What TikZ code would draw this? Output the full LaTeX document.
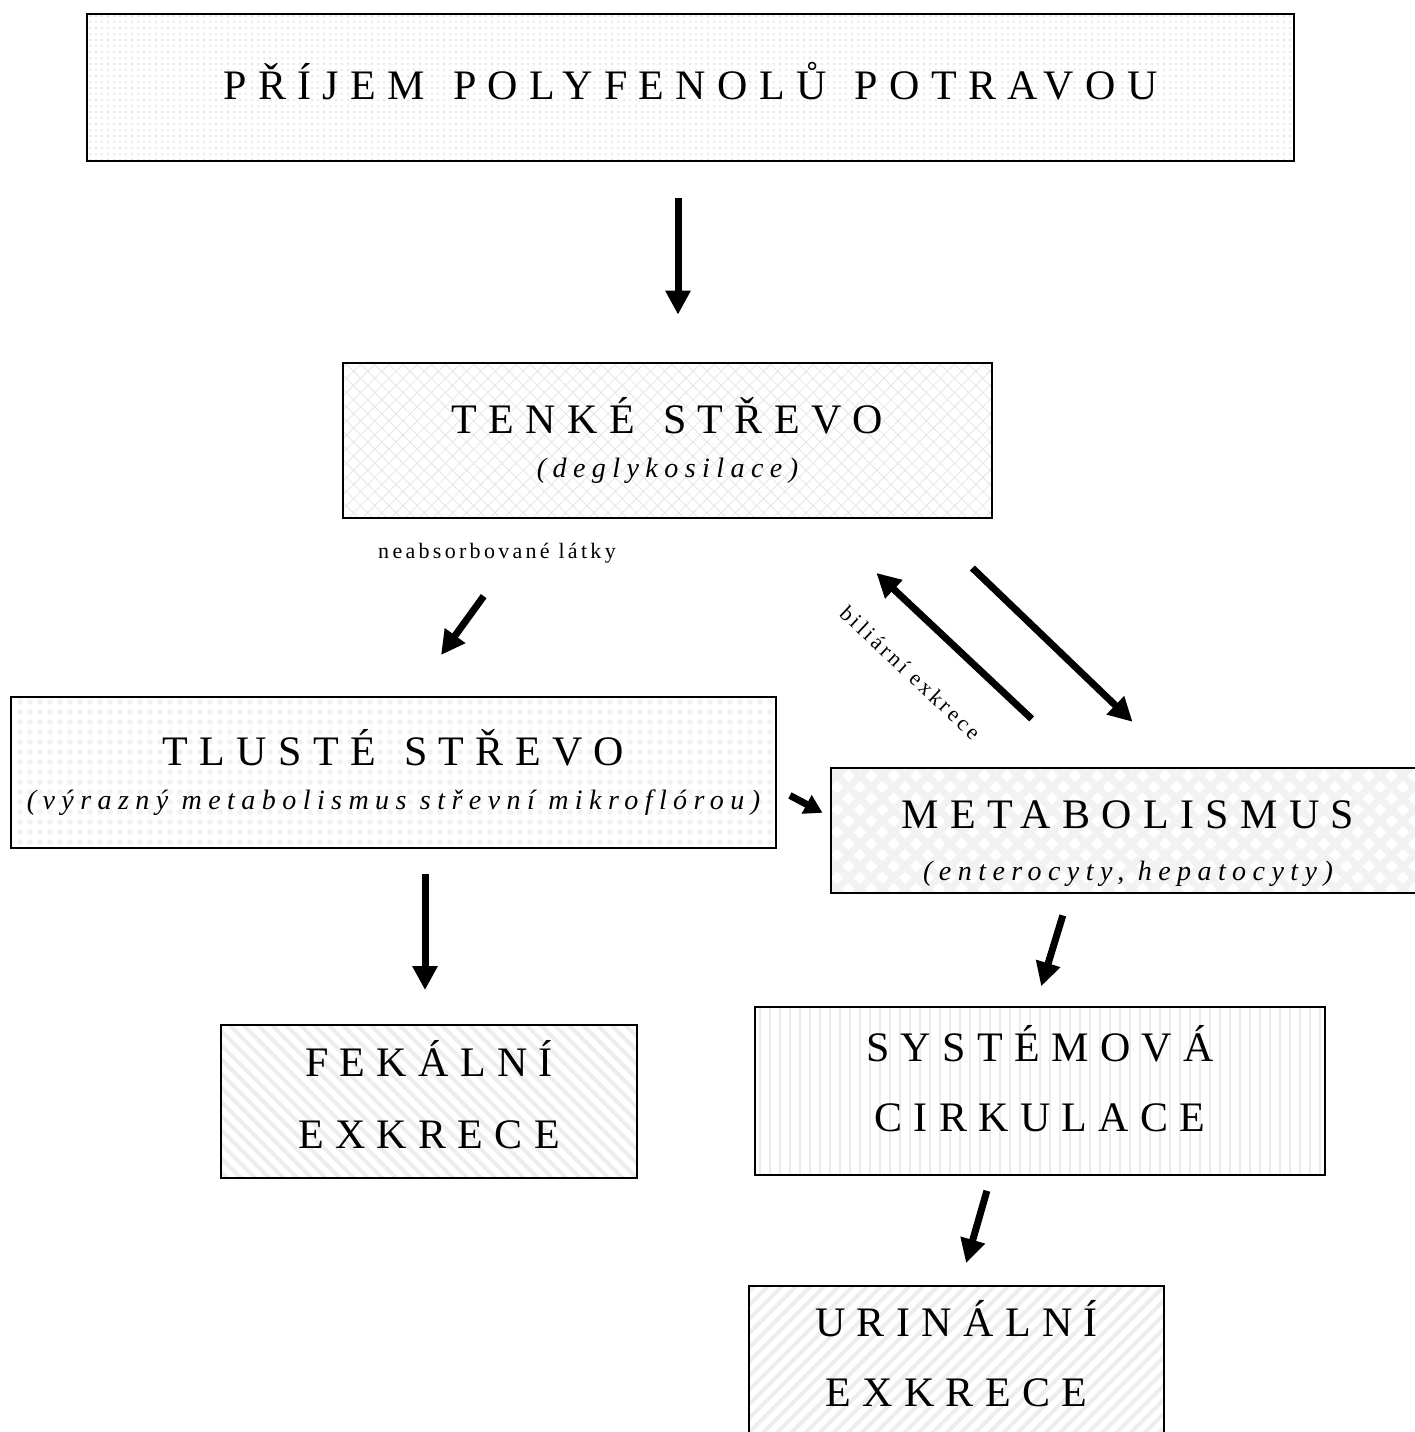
\documentclass[tikz,border=0pt]{standalone}
\usepackage{fontspec}
\setmainfont{Liberation Serif}
\newfontfamily\titlefam[LetterSpace=27,WordSpace=1.3]{Liberation Serif}
\usetikzlibrary{arrows.meta,patterns.meta}
\newcommand{\boxtitle}{\titlefam\fontsize{21}{22}\selectfont}
\newcommand{\boxsub}{\rmfamily\fontsize{14}{16}\selectfont\itshape\addfontfeature{LetterSpace=23}}
\newcommand{\flowlabel}{\rmfamily\fontsize{11}{12}\selectfont\addfontfeature{LetterSpace=15}}

\begin{document}
\begin{tikzpicture}[x=0.5pt,y=-0.5pt,
  box/.style={draw,line width=1.2pt,inner sep=0pt,align=center,font=\boxtitle},
  arr/.style={line width=3.5pt,-{Triangle[width=12pt,length=12pt]}},
  tiny/.style={line width=3.5pt,-{Triangle[width=10pt,length=9pt]}}]
\useasboundingbox (0,0) rectangle (1415,1432);
\clip (0,0) rectangle (1415,1432);
\node[box,pattern={Dots[distance=3pt,radius=0.7pt]},pattern color=black!9,text depth=7pt,
  minimum width=603.5pt,minimum height=73.5pt] (intake) at (690.5,87.5) {PŘÍJEM POLYFENOLŮ POTRAVOU};
\node[box,pattern={Hatch[angle=45,distance=5pt,line width=0.4pt]},pattern color=black!10,
  minimum width=324.5pt,minimum height=77.5pt] (small) at (667.5,440.5)
  {TENKÉ STŘEVO\\{\boxsub (deglykosilace)}};
\node[box,pattern={Dots[distance=5pt,radius=1.5pt]},pattern color=black!5,
  minimum width=382.5pt,minimum height=75.5pt] (large) at (393.5,772.5)
  {TLUSTÉ STŘEVO\\{\boxsub (výrazný metabolismus střevní mikroflórou)}};
\node[box,pattern={Hatch[angle=45,distance=8pt,line width=3.5pt]},pattern color=black!5,
  minimum width=297pt,minimum height=62.5pt] (metab) at (1128,830.5)
  {\rule{0pt}{26.7pt}METABOLISMUS\\[4pt]{\boxsub (enterocyty, hepatocyty)}};
\node[box,pattern={Lines[angle=90,distance=5pt,line width=0.8pt]},pattern color=black!8,text depth=13pt,
  minimum width=285pt,minimum height=84pt] (syst) at (1040,1091)
  {SYSTÉMOVÁ\\[13pt]CIRKULACE};
\node[box,pattern={Lines[angle=-45,distance=5pt,line width=2pt]},pattern color=black!7,text depth=7pt,
  minimum width=208pt,minimum height=76.5pt] (fecal) at (429,1101.5)
  {FEKÁLNÍ\\[14pt]EXKRECE};
\node[box,pattern={Lines[angle=45,distance=5pt,line width=2pt]},pattern color=black!7,text depth=13pt,
  minimum width=207.5pt,minimum height=80pt] (urin) at (956.5,1366)
  {URINÁLNÍ\\[13pt]EXKRECE};
\node[font=\flowlabel] (unabs) at (497,553) {neabsorbované látky};

\draw[arr,shorten <=18pt,shorten >=24pt] ([xshift=-6.25pt]intake.south) -- ([xshift=5.25pt]small.north);
\draw[arr,shorten <=48pt,shorten >=25.2pt] ([xshift=-63.75pt]small.south) -- ([xshift=9pt]large.north);
\draw[arr,shorten <=35.8pt,shorten >=30.8pt] ([xshift=126.6pt]small.south) -- ([xshift=24.5pt]metab.north);
\draw[arr,shorten <=33.3pt,shorten >=39.8pt] ([xshift=-23.9pt]metab.north) --
  node[sloped,below=19pt,inner sep=0pt,font=\flowlabel,pos=0.52] (bil) {biliární exkrece} ([xshift=75.45pt]small.south);
\draw[tiny,shorten <=7.2pt,shorten >=2.8pt] ([yshift=-8.1pt]large.east) -- ([yshift=7.55pt]metab.west);
\draw[arr,shorten <=12.5pt,shorten >=16.5pt] ([xshift=15.75pt]large.south) -- ([xshift=-2pt]fecal.north);
\draw[arr,shorten <=9.9pt,shorten >=10.4pt] ([xshift=-29.7pt]metab.south) -- ([xshift=-2.45pt]syst.north);
\draw[arr,shorten <=7.8pt,shorten >=10.9pt] ([xshift=-24.4pt]syst.south) -- ([xshift=1.8pt]urin.north);
\end{tikzpicture}
\end{document}
